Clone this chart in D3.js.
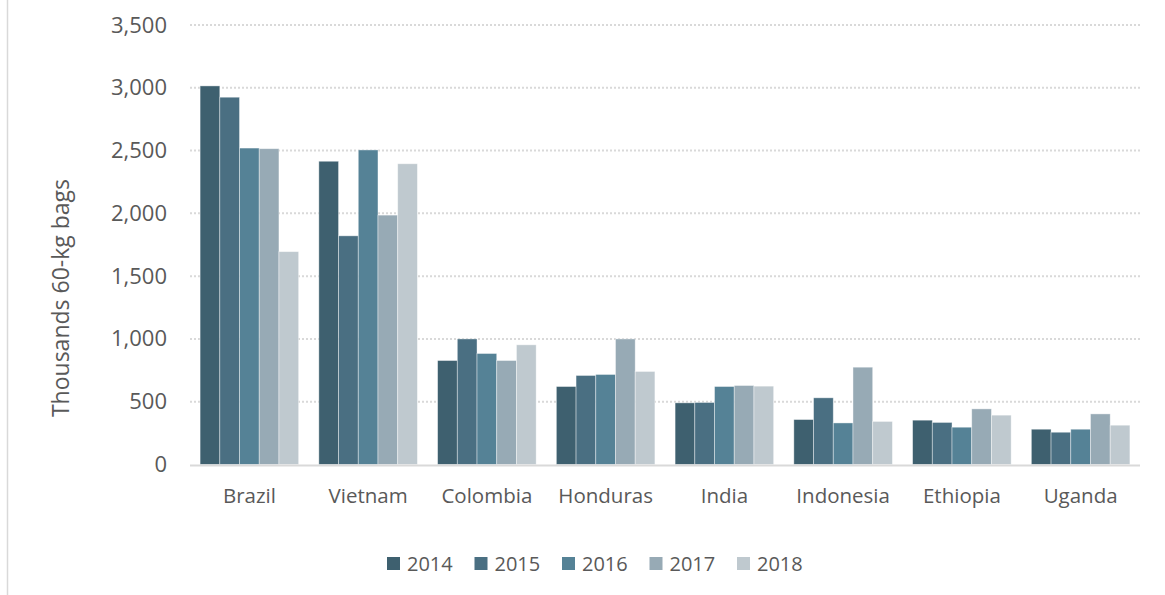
<!DOCTYPE html>
<html>
<head>
<meta charset="utf-8">
<script src="https://cdn.jsdelivr.net/npm/d3@7"></script>
<style>
  body { margin: 0; background: #fff; }
  text { font-family: "Open Sans", sans-serif; fill: #595959; }
</style>
</head>
<body>
<svg id="chart" width="1165" height="595"></svg>
<script>
const countries = ["Brazil", "Vietnam", "Colombia", "Honduras", "India", "Indonesia", "Ethiopia", "Uganda"]
const years = ["2014", "2015", "2016", "2017", "2018"]
const v2014 = [3015, 2415, 828, 621, 491, 358, 353, 281]
const v2015 = [2925, 1821, 1000, 709, 494, 531, 335, 257]
const v2016 = [2520, 2505, 884, 717, 621, 331, 297, 281]
const v2017 = [2515, 1986, 828, 1000, 629, 775, 443, 403]
const v2018 = [1695, 2395, 953, 741, 624, 343, 393, 313]
const yTicks = [0, 500, 1000, 1500, 2000, 2500, 3000, 3500]
const colors = ["#3e606f", "#4a6f82", "#558296", "#97aab5", "#bfc9cf"]

const series = [v2014, v2015, v2016, v2017, v2018]

let svg = d3.select("#chart")

// left frame line
svg.append("line")
	.attr("x1", 7.5).attr("x2", 7.5)
	.attr("y1", 0).attr("y2", 595)
	.attr("stroke", "#d9d9d9")
	.attr("stroke-width", 1.5)

let x = d3.scaleBand()
	.domain(countries)
	.range([190, 1140])
	.paddingInner(0.17)
	.paddingOuter(0.085)

let xSub = d3.scaleBand()
	.domain(years)
	.range([0, x.bandwidth()])

let y = d3.scaleLinear()
	.domain([0, 3500])
	.range([464.5, 25])

let color = d3.scaleOrdinal().domain(years).range(colors)

// grid
svg.append("g")
	.selectAll("line")
	.data(yTicks.filter(d => d > 0))
	.join("line")
	.attr("x1", 190).attr("x2", 1140)
	.attr("y1", d => y(d)).attr("y2", d => y(d))
	.attr("stroke", "#d9d9d9")
	.attr("stroke-width", 2)
	.attr("stroke-dasharray", "2,2")

// y tick labels
let yAxis = svg.append("g")
	.attr("transform", "translate(190,0)")
	.call(d3.axisLeft(y).tickValues(yTicks).tickSize(0).tickPadding(23).tickFormat(d3.format(",")))
yAxis.select(".domain").remove()
yAxis.selectAll("text")
	.style("font-size", "22px")
	.style("font-family", "'Open Sans', sans-serif")
	.attr("fill", "#595959")

// bars
let rows = []
countries.forEach((c, i) => {
	years.forEach((yr, j) => {
		rows.push({country: c, year: yr, value: series[j][i]})
	})
})

svg.append("g")
	.selectAll("rect")
	.data(rows)
	.join("rect")
	.attr("x", d => x(d.country) + xSub(d.year))
	.attr("width", xSub.bandwidth())
	.attr("y", d => y(d.value))
	.attr("height", d => y(0) - y(d.value))
	.attr("fill", d => color(d.year))
	.attr("stroke", "#ffffff")
	.attr("stroke-opacity", 0.5)
	.attr("stroke-width", 0.8)

// baseline
svg.append("line")
	.attr("x1", 190).attr("x2", 1140)
	.attr("y1", y(0) + 1).attr("y2", y(0) + 1)
	.attr("stroke", "#d9d9d9")
	.attr("stroke-width", 2)

// x labels
let xAxis = svg.append("g")
	.attr("transform", "translate(0," + (y(0) + 1) + ")")
	.call(d3.axisBottom(x).tickSize(0).tickPadding(23))
xAxis.select(".domain").remove()
xAxis.selectAll("text")
	.style("font-size", "20.5px")
	.style("font-family", "'Open Sans', sans-serif")
	.attr("fill", "#595959")

// y title
svg.append("text")
	.attr("transform", "translate(69,298) rotate(-90)")
	.attr("text-anchor", "middle")
	.style("font-size", "23px")
	.text("Thousands 60-kg bags")

// legend
let legend = svg.append("g")
	.selectAll("g")
	.data(years)
	.join("g")
	.attr("transform", (d, i) => "translate(" + (387 + i * 87.5) + ",557)")

legend.append("rect")
	.attr("width", 13).attr("height", 13)
	.attr("fill", d => color(d))

legend.append("text")
	.attr("x", 20).attr("y", 6.5)
	.attr("dy", "0.35em")
	.style("font-size", "20px")
	.text(d => d)
</script>
</body>
</html>
